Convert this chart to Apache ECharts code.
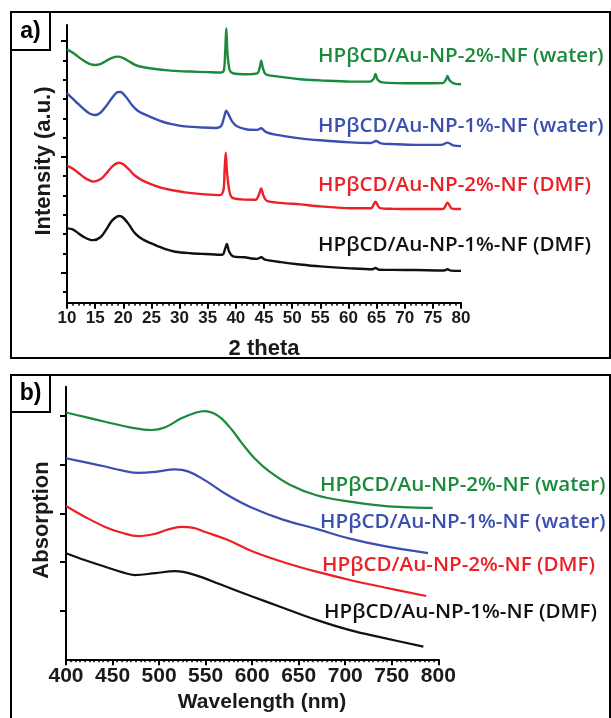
<!DOCTYPE html>
<html><head><meta charset="utf-8">
<script src="https://cdn.jsdelivr.net/npm/echarts@6/dist/echarts.min.js"></script>
<style>html,body{margin:0;padding:0;background:#fff}#c{width:611px;height:718px}</style>
</head><body><div id="c"></div>
<script>
// ---------- data ----------
const seriesNames = [
  'HPβCD/Au-NP-2%-NF (water)',
  'HPβCD/Au-NP-1%-NF (water)',
  'HPβCD/Au-NP-2%-NF (DMF)',
  'HPβCD/Au-NP-1%-NF (DMF)'
];
const seriesColors = ['#1b8a3c', '#3b4fb0', '#ec2027', '#111111'];

// panel a) XRD: [2theta, intensity (a.u., stacked)]
const xrdWater2 = [[10,12.57],[11,12.40],[12,12.18],[13,11.98],[14,11.82],[15,11.76],[16,11.82],[17,11.98],[18,12.13],[19,12.19],[20,12.12],[21,11.95],[22,11.78],[23,11.68],[25,11.58],[28,11.48],[30,11.44],[32,11.42],[35,11.39],[37,11.37],[37.8,11.42],[38.1,12.4],[38.3,13.66],[38.5,12.4],[38.9,11.5],[39.5,11.33],[42,11.28],[43.8,11.32],[44.3,11.7],[44.5,11.98],[44.8,11.6],[45.3,11.28],[47,11.18],[51.4,11.02],[55,10.96],[60.3,10.9],[63.8,10.9],[64.5,11.05],[64.8,11.3],[65.2,11.0],[66,10.86],[72,10.81],[76.8,10.82],[77.4,11.05],[77.6,11.19],[78.0,10.95],[79,10.78],[80,10.76]];
const xrdWater1 = [[10,10.29],[11,10.02],[12,9.74],[13,9.47],[14,9.25],[15,9.17],[16,9.30],[17,9.65],[18,10.05],[19,10.35],[19.5,10.36],[20.5,10.1],[21.5,9.7],[22.5,9.4],[23.5,9.24],[25,9.05],[27,8.82],[28.6,8.70],[31,8.58],[34,8.52],[36.5,8.50],[37.4,8.6],[37.9,9.05],[38.3,9.39],[38.7,9.2],[39.3,8.85],[40.1,8.60],[42,8.42],[43.8,8.40],[44.5,8.48],[45.3,8.30],[47,8.15],[51.4,7.96],[55,7.86],[60.3,7.75],[64,7.72],[64.9,7.82],[65.8,7.70],[68,7.66],[72,7.62],[76.5,7.62],[77.6,7.74],[78.6,7.6],[80,7.56]];
const xrdDmf2 = [[10,6.55],[11,6.40],[12,6.18],[13,5.95],[14,5.78],[14.7,5.72],[16,5.85],[17,6.15],[18,6.50],[19.2,6.70],[20,6.62],[21,6.35],[22,6.05],[23.3,5.80],[25,5.58],[27,5.38],[28.6,5.28],[31,5.16],[34.6,5.06],[37.2,5.02],[37.8,5.3],[38.0,6.3],[38.2,7.22],[38.4,6.3],[38.8,5.3],[39.3,4.9],[41,4.8],[43.5,4.78],[44.1,5.05],[44.5,5.37],[44.9,5.0],[45.5,4.72],[48,4.62],[51.4,4.54],[55,4.44],[60.3,4.34],[64,4.34],[64.8,4.68],[65.6,4.35],[68,4.31],[72.1,4.30],[76.8,4.30],[77.6,4.63],[78.4,4.32],[80,4.30]];
const xrdDmf1 = [[10,3.30],[11,3.25],[12,3.05],[13,2.85],[14,2.72],[14.7,2.69],[16,2.85],[17,3.25],[18,3.70],[19.3,3.94],[20,3.85],[21,3.50],[22.1,3.04],[23.5,2.72],[25.6,2.44],[27.5,2.22],[29.2,2.09],[32,2.01],[34.6,1.97],[37.6,1.93],[38.1,2.25],[38.4,2.49],[38.8,2.1],[39.5,1.85],[41.5,1.80],[43.8,1.72],[44.5,1.80],[45.2,1.68],[48,1.55],[51.4,1.43],[55,1.33],[60.3,1.23],[64.3,1.18],[64.8,1.25],[65.4,1.16],[68,1.15],[72,1.14],[77,1.12],[77.6,1.18],[78.2,1.11],[80,1.10]];

// panel b) UV-vis: [wavelength nm, absorption (stacked)]
const uvWater2 = [[400,5.07],[420,4.98],[442,4.88],[470,4.76],[492,4.71],[506,4.76],[524,4.95],[540,5.07],[549,5.10],[558,5.06],[567,4.95],[578,4.72],[589,4.44],[603,4.12],[619,3.85],[641,3.58],[669,3.37],[705,3.24],[741,3.15],[770,3.12],[794,3.11]];
const uvWater1 = [[400,4.13],[420,4.05],[442,3.96],[460,3.88],[478,3.83],[496,3.85],[517,3.90],[531,3.86],[549,3.68],[574,3.37],[598,3.13],[633,2.87],[669,2.68],[705,2.48],[741,2.33],[789,2.18]];
const uvDmf2 = [[400,3.15],[420,2.93],[442,2.72],[460,2.60],[478,2.53],[496,2.58],[510,2.67],[524,2.72],[537,2.70],[549,2.62],[574,2.45],[600,2.22],[633,2.00],[669,1.80],[705,1.63],[741,1.48],[787,1.30]];
const uvDmf1 = [[400,2.18],[420,2.04],[442,1.90],[460,1.79],[474,1.73],[496,1.77],[517,1.81],[539,1.73],[567,1.53],[600,1.29],[633,1.06],[669,0.81],[705,0.60],[741,0.44],[784,0.26]];

const xrdSeries = [xrdWater2, xrdWater1, xrdDmf2, xrdDmf1];
const uvSeries = [uvWater2, uvWater1, uvDmf2, uvDmf1];

const xrdTickMajor = [1, 7, 13];
const xrdTickMinor = [0, 2, 3, 4, 5, 6, 8, 9, 10, 11, 12];
const uvTicks = [1, 2, 3, 4, 5];

// ---------- chart ----------
const chart = echarts.init(document.getElementById('c'), null, {renderer: 'canvas'});
const AX = 'Liberation Sans';
const black = '#000';

function xAxisCfg(grid, min, max, interval, split, fontSize, margin) {
  return {
    gridIndex: grid, type: 'value', min: min, max: max, interval: interval,
    axisLine: {onZero: false, lineStyle: {color: black, width: 2}},
    axisTick: {length: 6, lineStyle: {color: black, width: 2}},
    minorTick: {show: true, splitNumber: split, length: 3, lineStyle: {color: black, width: 1.5}},
    axisLabel: {color: '#1a1a1a', fontFamily: AX, fontWeight: 'bold', fontSize: fontSize, margin: margin},
    splitLine: {show: false}, minorSplitLine: {show: false}
  };
}
function yAxisCfg(grid, min, max, ticks, len, showLine) {
  return {
    gridIndex: grid, type: 'value', position: 'left', min: min, max: max,
    axisLine: {show: showLine, onZero: false, lineStyle: {color: black, width: 2}},
    axisTick: {show: true, customValues: ticks, length: len, lineStyle: {color: black, width: 2}},
    axisLabel: {show: false},
    splitLine: {show: false}
  };
}

const series = [];
xrdSeries.forEach((d, i) => series.push({
  name: seriesNames[i], type: 'line', xAxisIndex: 0, yAxisIndex: 0, data: d,
  showSymbol: false, smooth: 0.3, lineStyle: {color: seriesColors[i], width: 2.4}, silent: true
}));
uvSeries.forEach((d, i) => series.push({
  name: seriesNames[i], type: 'line', xAxisIndex: 1, yAxisIndex: 2, data: d,
  showSymbol: false, smooth: 0.4, lineStyle: {color: seriesColors[i], width: 2.2}, silent: true
}));

const labelA = [[318, 56], [318, 126], [318, 185], [318, 245]];
const labelB = [[320, 485], [320, 522], [322, 565], [324, 612]];
const graphics = [
  {type: 'rect', shape: {x: 11, y: 12, width: 599, height: 346}, style: {fill: 'none', stroke: black, lineWidth: 2}},
  {type: 'rect', shape: {x: 11, y: 12, width: 39, height: 38}, style: {fill: '#fff', stroke: black, lineWidth: 2}},
  {type: 'text', x: 30.5, y: 32, style: {text: 'a)', font: 'bold 23px "Liberation Sans"', fill: black, align: 'center', verticalAlign: 'middle'}},
  {type: 'rect', shape: {x: 11, y: 375, width: 599, height: 360}, style: {fill: 'none', stroke: black, lineWidth: 2}},
  {type: 'rect', shape: {x: 11, y: 375, width: 39, height: 37}, style: {fill: '#fff', stroke: black, lineWidth: 2}},
  {type: 'text', x: 30.5, y: 394, style: {text: 'b)', font: 'bold 23px "Liberation Sans"', fill: black, align: 'center', verticalAlign: 'middle'}},
  {type: 'text', x: 264, y: 349, style: {text: '2 theta', font: 'bold 22px "Liberation Sans"', fill: '#1a1a1a', align: 'center', verticalAlign: 'middle'}},
  {type: 'text', x: 262, y: 702, style: {text: 'Wavelength (nm)', font: 'bold 21px "Liberation Sans"', fill: '#1a1a1a', align: 'center', verticalAlign: 'middle'}},
  {type: 'text', x: 43.5, y: 161, rotation: Math.PI / 2, style: {text: 'Intensity (a.u.)', font: 'bold 22px "Liberation Sans"', fill: '#1a1a1a', align: 'center', verticalAlign: 'middle'}},
  {type: 'text', x: 42, y: 520, rotation: Math.PI / 2, style: {text: 'Absorption', font: 'bold 22px "Liberation Sans"', fill: '#1a1a1a', align: 'center', verticalAlign: 'middle'}}
];
seriesNames.forEach((n, i) => {
  graphics.push({type: 'text', x: labelA[i][0], y: labelA[i][1], style: {text: n, font: '600 20.6px "Open Sans"', fill: seriesColors[i], align: 'left', verticalAlign: 'middle'}});
  graphics.push({type: 'text', x: labelB[i][0], y: labelB[i][1], style: {text: n, font: '600 20.6px "Open Sans"', fill: seriesColors[i], align: 'left', verticalAlign: 'middle'}});
});

chart.setOption({
  animation: false,
  backgroundColor: '#fff',
  grid: [
    {left: 67, top: 25, width: 394, height: 277.7},
    {left: 66, top: 386.7, width: 372.3, height: 272.6}
  ],
  xAxis: [
    xAxisCfg(0, 10, 80, 5, 5, 17, 7),
    xAxisCfg(1, 400, 800, 50, 10, 21, 6)
  ],
  yAxis: [
    yAxisCfg(0, -0.55, 13.83, xrdTickMajor, 6, true),
    yAxisCfg(0, -0.55, 13.83, xrdTickMinor, 4, false),
    yAxisCfg(1, 0, 5.6, uvTicks, 6, true)
  ],
  series: series,
  graphic: graphics
});
</script>
</body></html>
